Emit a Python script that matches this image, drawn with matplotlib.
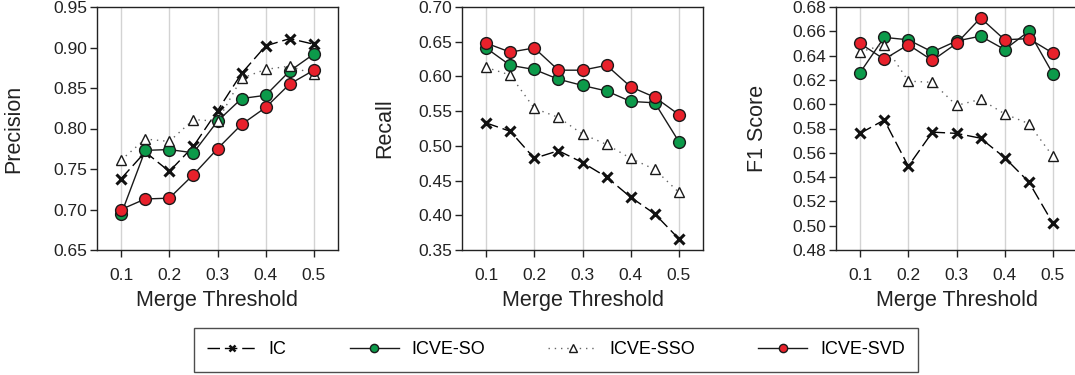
import numpy as np
import matplotlib.pyplot as plt
from matplotlib.lines import Line2D

plt.rcParams['font.family'] = ['Liberation Sans', 'DejaVu Sans']

thresholds = [0.1, 0.15, 0.2, 0.25, 0.3, 0.35, 0.4, 0.45, 0.5]

# precision
prec_ic = [0.738, 0.771, 0.747, 0.778, 0.822, 0.868, 0.902, 0.911, 0.904]
prec_so = [0.694, 0.773, 0.774, 0.770, 0.809, 0.837, 0.841, 0.871, 0.892]
prec_sso = [0.761, 0.787, 0.784, 0.811, 0.809, 0.862, 0.873, 0.877, 0.867]
prec_svd = [0.700, 0.713, 0.714, 0.743, 0.775, 0.805, 0.826, 0.855, 0.872]

# recall
rec_ic = [0.533, 0.521, 0.482, 0.493, 0.476, 0.455, 0.426, 0.402, 0.366]
rec_so = [0.641, 0.616, 0.610, 0.596, 0.587, 0.579, 0.564, 0.562, 0.506]
rec_sso = [0.613, 0.602, 0.554, 0.541, 0.517, 0.502, 0.482, 0.466, 0.433]
rec_svd = [0.648, 0.635, 0.641, 0.609, 0.609, 0.616, 0.585, 0.570, 0.545]

# f1
f1_ic = [0.576, 0.587, 0.549, 0.577, 0.576, 0.572, 0.556, 0.536, 0.502]
f1_so = [0.626, 0.655, 0.653, 0.643, 0.652, 0.656, 0.645, 0.660, 0.625]
f1_sso = [0.643, 0.649, 0.619, 0.618, 0.599, 0.604, 0.592, 0.584, 0.557]
f1_svd = [0.650, 0.637, 0.649, 0.636, 0.650, 0.671, 0.653, 0.654, 0.642]

series_names = ['IC', 'ICVE-SO', 'ICVE-SSO', 'ICVE-SVD']

GREEN = '#0c9a4a'
RED = '#e8212b'

styles = {
    'IC': dict(color='black', lw=1.0, dashes=(9, 3.5), marker='x', ms=7, mew=2.2,
               mec='#111111', zorder=3),
    'ICVE-SO': dict(color='#1a1a1a', lw=1.0, ls='-', marker='o', ms=8.5, mfc=GREEN,
                    mec='#1a1a1a', mew=1.0, zorder=4),
    'ICVE-SSO': dict(color='#666666', lw=1.0, ls=(0, (1, 3.5)), marker='^', ms=7.5,
                     mfc='white', mec='#1a1a1a', mew=1.0, zorder=5),
    'ICVE-SVD': dict(color='#1a1a1a', lw=1.0, ls='-', marker='o', ms=8.5, mfc=RED,
                     mec='#1a1a1a', mew=1.0, zorder=6),
}

panels = [
    ('Precision', [prec_ic, prec_so, prec_sso, prec_svd], (0.65, 0.95), np.arange(0.65, 0.951, 0.05)),
    ('Recall', [rec_ic, rec_so, rec_sso, rec_svd], (0.35, 0.70), np.arange(0.35, 0.701, 0.05)),
    ('F1 Score', [f1_ic, f1_so, f1_sso, f1_svd], (0.48, 0.68), np.arange(0.48, 0.681, 0.02)),
]

W, H = 1075, 375
fig = plt.figure(figsize=(W / 100, H / 100), dpi=100)
lefts = [97, 462, 836]
label_x = [-0.30, -0.278, -0.282]
for (ylabel, data, ylim, yticks), left, lx in zip(panels, lefts, label_x):
    ax = fig.add_axes([left / W, (H - 250) / H, 241 / W, 243 / H])
    for name, vals in zip(series_names, data):
        ax.plot(thresholds, vals, **styles[name])
    ax.set_xlim(0.05, 0.55)
    ax.set_ylim(*ylim)
    ax.set_xticks([0.1, 0.2, 0.3, 0.4, 0.5])
    ax.set_xticklabels(['0.1', '0.2', '0.3', '0.4', '0.5'])
    ax.set_yticks(yticks)
    ax.set_yticklabels(['%.2f' % v for v in yticks])
    ax.xaxis.grid(True, color='#d3d3d3', lw=1.0)
    ax.set_axisbelow(True)
    ax.tick_params(axis='both', direction='out', length=5, width=1, labelsize=12.5,
                   colors='#222222')
    ax.tick_params(axis='x', pad=8)
    ax.tick_params(axis='y', pad=2)
    for s in ax.spines.values():
        s.set_linewidth(1.0)
        s.set_color('#222222')
    ax.set_xlabel('Merge Threshold', fontsize=15.5, labelpad=5, color='#222222')
    ax.set_ylabel(ylabel, fontsize=15.5, color='#222222')
    ax.yaxis.set_label_coords(lx, 0.5)

handles = []
for name in series_names:
    st = dict(styles[name])
    st.pop('zorder')
    st['ms'] = st['ms'] * 0.7
    if name == 'IC':
        st['mew'] = 1.8
    handles.append(Line2D([], [], **st))

leg = fig.legend(handles, series_names, loc='center', ncol=4,
                 bbox_to_anchor=(556 / W, 25 / H), fontsize=13, frameon=True,
                 fancybox=False, edgecolor='#222222', handlelength=2.7,
                 handletextpad=0.7, columnspacing=3.5, borderpad=0.75,
                 borderaxespad=0)
leg.get_frame().set_linewidth(1.0)

fig.savefig('out.png', dpi=100)
